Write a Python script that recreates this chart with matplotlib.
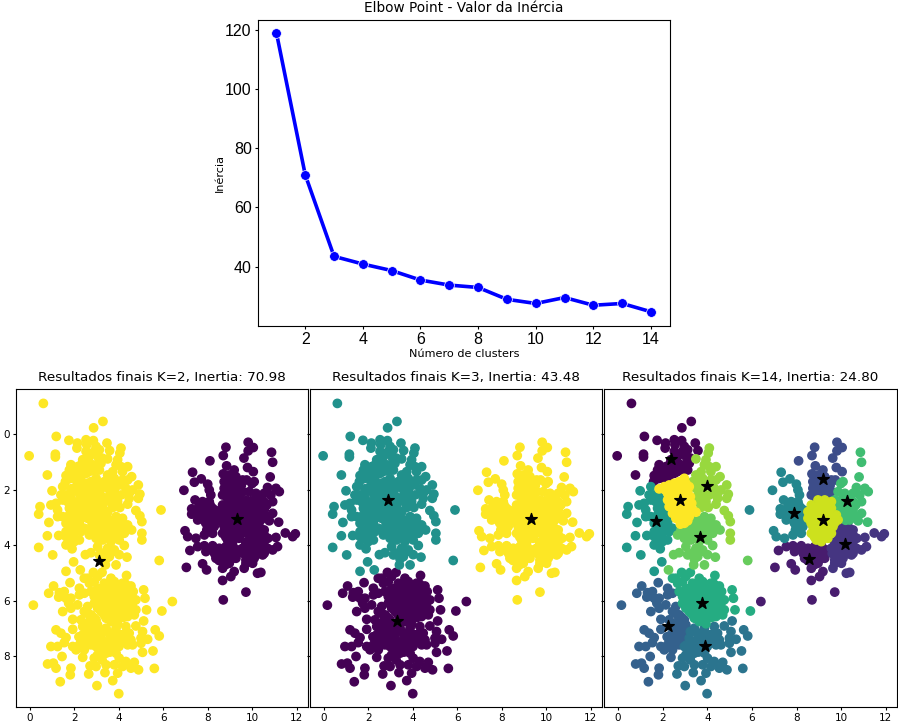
import numpy as np
from matplotlib import pyplot as plt

# Elbow curve
k_values = [1, 2, 3, 4, 5, 6, 7, 8, 9, 10, 11, 12, 13, 14]
inertia = [118.9, 70.98, 43.48, 40.9, 38.7, 35.5, 33.8, 33.0, 29.0, 27.6, 29.6, 27.0, 27.6, 24.8]

# Points grouped as in the K=14 panel
c0 = [(.60,-1.11),(3.28,-.46),(2.86,-.23),(1.18,.08),(1.75,.22),(2.52,.20),(2.85,.23),(3.46,.32),(2.13,.32),(2.11,.50),
      (2.55,.38),(2.97,.44),(3.58,.59),(-.04,.78),(1.14,.72),(1.14,.82),(2.52,.62),(2.89,.62),(3.12,.56),(2.67,.80),
      (3.04,.80),(2.37,.92),(3.24,.86),(.78,1.47),(1.84,1.10),(2.14,1.17),(2.52,1.10),(2.97,1.10),(3.19,1.05),(1.77,1.29),
      (1.99,1.37),(2.37,1.32),(2.74,1.23),(1.62,1.49),(1.59,1.71),(1.99,1.59),(2.29,1.53),(2.52,1.41),(3.12,1.29),
      (2.45,1.25),(2.65,1.35),(2.85,1.30),(2.20,1.60),(1.80,1.60),(2.30,1.10),(2.70,1.05)]
c1 = [(7.19,4.19),(7.54,4.05),(7.84,4.02),(8.21,4.02),(8.51,4.11),(8.81,4.05),(9.11,3.99),(9.33,4.17),(8.96,4.23),(7.03,4.80),
      (7.76,4.67),(7.94,4.89),(7.91,4.23),(8.28,4.23),(8.73,4.23),(9.11,4.29),(9.26,4.47),(8.73,4.53),(8.36,4.47),(8.96,4.65),
      (8.66,4.83),(9.18,4.95),(9.03,5.13),(8.66,5.27),(8.69,5.97),(9.71,5.69),
      (9.10,4.10),(9.25,4.25),(8.90,4.40),(9.05,4.50),(8.55,4.30),(8.50,4.55),(8.80,4.70),(9.30,4.30),(8.30,4.30)]
c2 = [(10.31,3.33),(10.53,3.45),(10.01,3.33),(9.78,3.57),(10.16,3.57),(10.53,3.63),(9.86,3.81),(10.23,3.87),(11.48,3.56),
      (11.93,3.59),(11.81,3.69),(11.06,3.72),(10.53,3.87),(9.56,4.11),(9.93,4.11),(10.31,4.11),(10.68,4.11),(11.13,4.05),
      (10.91,4.17),(9.71,4.29),(10.16,4.29),(10.53,4.29),(10.46,4.35),(9.71,4.53),(10.08,4.47),(9.71,4.65),(10.01,4.65),
      (9.63,4.83),(10.23,5.01),(10.38,4.98),
      (10.20,3.40),(9.90,3.50),(10.35,3.60),(10.00,3.70),(10.40,3.75),(10.10,3.95),(10.45,4.00),(9.70,3.90),(9.90,4.25),
      (10.30,4.30),(9.85,4.45),(9.60,4.30),(10.70,3.75)]
c3 = [(9.81,.29),(8.81,.47),(10.04,.48),(9.81,.60),(8.69,.77),(9.62,.86),(8.09,.96),(8.84,1.14),(9.78,1.20),(9.18,1.29),
      (10.04,1.35),(8.69,1.43),(8.96,1.47),(9.26,1.53),(9.56,1.65),(9.74,1.65),(8.73,1.71),(9.03,1.71),(8.73,1.95),(9.11,1.89),
      (9.41,1.95),(8.66,2.19),(8.96,2.13),(9.26,2.13),(9.56,2.07),(8.88,2.31),(9.18,2.25),
      (8.90,1.75),(9.35,1.75),(9.00,1.95),(9.25,1.90),(8.80,2.05),(9.10,2.00),(9.35,2.05),(9.50,1.85),(8.90,2.25),(9.05,2.25),(9.40,2.20)]
c4 = [(.15,6.16),(1.06,5.47),(1.80,5.35),(.84,5.73),(1.32,5.71),(1.54,5.67),(1.29,5.87),(2.22,5.55),(1.62,5.91),(1.84,5.91),
      (2.22,5.79),(2.44,5.73),(1.74,6.09),(1.47,6.39),(1.84,6.27),(2.14,6.15),(2.59,6.21),(2.44,6.39),(2.74,6.51),(1.92,6.67),
      (2.29,6.69),(2.67,6.75),(2.97,6.69),(1.17,7.05),(1.39,7.17),(1.92,7.03),(2.37,6.93),(2.74,6.99),(3.04,6.87),(1.62,7.33),
      (1.54,7.51),(2.37,7.23),(2.67,7.23),(2.97,7.17),(.94,7.65),(1.24,7.65),(1.92,7.65),(2.22,7.59),(2.59,7.47),(2.89,7.35),
      (2.07,7.77),(2.44,7.77),(2.74,7.59),(2.37,8.04),(1.44,8.01),(.79,8.28),(1.05,8.25),(1.17,8.43),(1.84,8.43),(1.81,8.67),
      (1.36,8.92),(2.55,6.45),(2.85,6.60),(2.50,6.90),(2.85,6.85),(2.55,7.10),(2.85,7.10),(2.30,7.40),(2.55,7.60),(2.20,7.30)]
c5 = [(5.11,6.73),(4.76,6.91),(4.31,6.93),(3.87,6.99),(3.42,6.99),(3.24,7.11),(3.64,7.17),(4.09,7.23),(4.46,7.17),(5.06,7.11),
      (5.63,7.05),(5.81,7.27),(3.19,7.35),(3.57,7.41),(4.54,7.41),(4.16,7.47),(4.99,7.35),(5.29,7.39),(4.99,7.53),(2.97,7.65),
      (3.34,7.65),(4.39,7.59),(4.61,7.59),(5.06,7.86),(5.53,7.81),(3.04,7.95),(3.42,7.89),(3.87,7.89),(2.89,8.07),(3.24,8.13),
      (4.01,8.07),(4.31,8.19),(4.69,8.22),(2.70,8.35),(2.97,8.37),(3.42,8.31),(3.79,8.31),(4.16,8.37),(4.54,8.43),(4.88,8.49),
      (5.59,8.44),(2.64,8.64),(3.37,8.59),(3.94,8.61),(3.72,8.88),(3.01,9.06),(3.99,9.35),
      (3.50,7.15),(3.85,7.20),(3.90,7.45),(4.25,7.20),(3.40,7.50),(3.70,7.60),(4.00,7.65),(4.30,7.45),(3.20,7.80),(3.60,7.85),(3.05,7.60)]
c6 = [(7.31,1.37),(7.70,1.61),(7.39,1.73),(7.99,1.80),(6.92,2.02),(8.06,2.01),(8.13,2.19),(7.42,2.37),(7.76,2.43),(8.06,2.43),
      (7.27,2.69),(7.27,2.88),(7.61,2.61),(7.91,2.61),(8.21,2.67),(7.61,2.85),(7.99,2.85),(8.28,2.91),(7.54,3.09),(7.84,3.09),
      (8.21,3.15),(7.99,3.33),(8.28,3.33),(6.97,3.48),(7.09,3.69),(7.46,3.75),(7.84,3.63),(8.21,3.57),
      (7.70,2.50),(7.85,2.75),(8.10,2.55),(7.75,2.95),(8.00,3.00),(8.15,3.05),(8.10,3.25),(7.90,3.20),(8.35,2.75),(8.40,3.10),
      (7.95,3.45),(8.10,3.50),(7.70,2.70)]
c7 = [(.99,2.04),(1.47,1.89),(.45,2.61),(.39,2.88),(.94,2.55),(1.17,2.49),(1.39,2.19),(1.62,2.19),(1.84,2.25),(1.47,2.37),
      (1.69,2.43),(1.92,2.43),(1.24,2.73),(1.77,2.67),(1.99,2.67),(2.14,2.85),(.85,3.18),(1.24,2.97),(1.47,2.97),(1.77,2.91),
      (1.99,2.97),(2.29,3.03),(1.62,3.21),(1.92,3.15),(2.22,3.21),(2.44,3.39),(2.29,3.51),(2.07,3.27),(.78,3.66),(1.29,3.65),
      (1.62,3.51),(1.84,3.45),(1.62,3.69),(1.84,3.75),(2.22,3.81),(1.99,3.87),(1.62,3.99),(1.89,4.13),(.39,4.08),(1.02,4.35),
      (1.96,4.60),(1.62,4.94),(1.90,2.80),(2.10,3.05),(1.75,3.10),(2.05,3.50),(1.95,3.65),(2.15,2.65)]
c8 = [(2.44,5.19),(2.67,5.37),(2.85,4.98),(3.04,5.13),(3.24,4.98),(2.59,5.19),(2.89,5.31),(3.64,5.19),(3.79,5.31),(4.34,5.09),
      (4.16,5.37),(4.54,5.47),(3.61,5.43),(3.87,5.55),(3.34,5.37),(2.74,5.67),(3.04,5.55),(3.34,5.61),(3.64,5.67),(4.01,5.61),
      (4.31,5.55),(4.64,5.67),(2.89,5.85),(3.19,5.79),(3.49,5.91),(3.94,5.85),(4.24,5.79),(4.54,5.85),(4.76,5.97),(2.89,6.09),
      (3.19,6.03),(3.49,6.15),(4.01,6.15),(4.31,6.03),(4.61,6.09),(3.04,6.27),(3.34,6.33),(3.72,6.33),(4.01,6.39),(4.39,6.33),
      (4.76,6.33),(3.34,6.51),(3.64,6.57),(4.01,6.63),(4.39,6.57),(4.69,6.51),(3.64,6.75),(3.94,6.83),(3.42,6.63),(5.11,5.61),
      (5.17,5.91),(5.24,6.33),(5.93,6.37),
      (3.05,5.70),(3.50,5.70),(3.80,5.70),(4.15,5.65),(4.40,5.70),(3.05,5.95),(3.35,5.95),(3.65,5.90),(4.10,5.95),(4.45,5.95),
      (3.10,6.15),(3.35,6.15),(3.65,6.15),(3.85,6.05),(4.15,6.20),(4.45,6.15),(3.20,6.40),(3.50,6.40),(3.85,6.45),(4.20,6.40),
      (4.55,6.25),(3.50,6.60),(3.80,6.60),(4.20,6.60),(3.75,5.45),(4.00,5.45),(4.30,5.40),(3.50,5.50)]
c9 = [(10.86,.65),(10.91,1.01),(10.80,1.54),(10.08,1.71),(9.98,1.78),(10.68,1.92),(11.06,1.95),(11.21,2.07),(9.86,2.07),
      (10.16,2.13),(10.53,2.13),(10.83,2.19),(9.71,2.37),(10.01,2.37),(10.53,2.43),(10.91,2.43),(9.71,2.61),(10.01,2.67),
      (10.31,2.61),(10.53,2.73),(9.86,2.85),(10.23,2.91),(10.61,2.97),(10.91,2.85),(10.38,3.09),(10.76,3.12),(11.18,3.17),
      (10.15,2.40),(10.30,2.30),(9.85,2.50),(10.15,2.75),(10.35,2.80),(10.00,3.00),(10.50,2.95),(10.20,3.10),(10.65,2.55)]
c10 = [(3.87,2.97),(4.16,3.03),(3.42,3.03),(3.72,3.15),(4.01,3.21),(4.39,3.27),(3.19,3.27),(3.49,3.33),(3.87,3.39),(4.16,3.45),
       (4.57,3.45),(2.82,3.45),(3.12,3.51),(3.42,3.57),(3.87,3.63),(4.24,3.57),(2.67,3.63),(2.97,3.75),(3.27,3.81),(3.64,3.87),
       (4.01,3.81),(3.04,4.05),(3.49,4.11),(3.79,4.17),(4.24,4.01),(2.49,4.34),(2.74,4.27),(3.34,4.27),(3.72,4.23),(4.01,4.34),
       (4.36,4.43),(3.39,4.71),(3.87,4.71),(2.26,4.89),(5.81,4.55),(3.12,4.35),(3.57,4.41),(3.42,4.50),
       (3.60,3.10),(3.95,3.05),(3.30,3.15),(3.60,3.50),(3.10,3.30),(3.30,3.60),(3.05,3.70),(3.50,3.70),(4.20,3.25),(3.95,3.50)]
c11 = [(4.09,.50),(3.49,.89),(4.04,.68),(3.94,.92),(4.39,1.17),(4.09,1.17),(3.87,1.10),(3.72,1.35),(4.16,1.35),(4.57,1.53),
       (3.49,1.47),(3.79,1.59),(4.16,1.65),(4.39,1.65),(3.34,1.71),(3.64,1.77),(4.01,1.83),(4.31,1.95),(4.87,1.83),(4.61,2.01),
       (3.49,1.95),(3.79,2.01),(4.46,2.13),(4.94,2.16),(4.87,2.31),(3.72,2.13),(4.09,2.19),(4.46,2.31),(3.64,2.45),(3.94,2.43),
       (4.39,2.52),(3.72,2.64),(4.04,2.64),(4.76,2.75),(4.94,2.94),(5.03,3.15),(5.03,3.57),(5.03,3.81),
       (3.65,1.50),(3.55,1.70),(3.85,1.80),(3.60,2.00),(3.90,2.25),(3.55,2.25),(3.80,2.55)]
c12 = [(8.96,2.37),(9.26,2.37),(9.56,2.43),(8.66,2.55),(8.96,2.61),(9.26,2.61),(9.56,2.67),(8.51,2.79),(8.81,2.85),(9.11,2.85),
       (9.48,2.91),(9.78,2.91),(8.51,3.03),(8.81,3.09),(9.11,3.15),(9.48,3.15),(9.86,3.09),(8.73,3.33),(9.03,3.39),(9.33,3.39),
       (9.63,3.33),(8.66,3.57),(8.96,3.63),(9.26,3.63),(9.56,3.57),(8.88,3.81),(9.11,3.87),
       (9.10,2.50),(9.40,2.50),(8.75,2.70),(9.10,2.70),(9.40,2.75),(8.65,2.90),(8.95,2.95),(9.30,3.00),(9.60,3.00),(8.65,3.20),
       (8.95,3.25),(9.30,3.25),(9.70,3.20),(8.85,3.50),(9.10,3.50),(9.40,3.50),(8.80,3.70),(9.10,3.70),(9.40,3.75)]
c13 = [(1.84,1.97),(2.07,1.89),(2.29,1.83),(2.52,1.77),(2.74,1.71),(2.97,1.59),(3.04,1.77),(3.19,1.89),(2.44,2.01),(2.67,1.95),
       (2.89,1.95),(3.12,2.07),(2.22,2.13),(2.44,2.25),(2.67,2.19),(2.97,2.19),(3.24,2.25),(2.22,2.37),(2.44,2.49),(2.74,2.43),
       (3.04,2.43),(3.30,2.49),(2.29,2.61),(2.59,2.67),(2.89,2.61),(3.12,2.67),(3.34,2.73),(2.44,2.85),(2.74,2.85),(3.04,2.85),
       (3.49,2.81),(2.59,3.03),(2.89,3.03),(3.19,2.97),(2.79,3.24),(2.97,3.21),(3.12,3.12),
       (2.10,2.00),(2.35,1.95),(2.60,1.85),(2.85,1.80),(2.55,2.15),(2.80,2.10),(3.05,2.20),(2.35,2.35),(2.60,2.35),(2.90,2.35),
       (3.15,2.35),(2.45,2.60),(2.75,2.55),(3.00,2.55),(2.55,2.80),(2.90,2.75),(3.20,2.80),(2.70,3.00),(3.05,3.05)]

# Two points that K=3 puts in another blob than their K=14 group
stray_x = [5.89, 6.40]
stray_y = [2.73, 6.03]
stray_k14 = [6, 1]
stray_k3 = [1, 0]

groups = [c0, c1, c2, c3, c4, c5, c6, c7, c8, c9, c10, c11, c12, c13]
k3_of_group = [1, 2, 2, 2, 0, 0, 2, 1, 0, 2, 1, 1, 2, 1]
k2_of_group = [1, 0, 0, 0, 1, 1, 0, 1, 1, 0, 1, 1, 0, 1]

# Centroids
centers_k2_x = [9.32, 3.12]
centers_k2_y = [3.07, 4.56]
centers_k3_x = [2.88, 3.29, 9.32]
centers_k3_y = [2.37, 6.73, 3.05]
centers_k14_x = [2.37, 2.76, 3.99, 1.69, 3.69, 7.87, 9.20, 10.25, 9.20, 10.17, 8.55, 3.75, 2.22, 3.90]
centers_k14_y = [.89, 2.38, 1.86, 3.12, 3.69, 2.85, 1.61, 2.40, 3.09, 3.95, 4.49, 6.07, 6.92, 7.64]

titles = ['Resultados finais K=2, Inertia: 70.98',
          'Resultados finais K=3, Inertia: 43.48',
          'Resultados finais K=14, Inertia: 24.80']

xs, ys, k2, k3, k14 = [], [], [], [], []
for i, g in enumerate(groups):
    for px, py in g:
        xs.append(px)
        ys.append(py)
        k14.append(i)
        k3.append(k3_of_group[i])
        k2.append(k2_of_group[i])
for px, py, a, b in zip(stray_x, stray_y, stray_k14, stray_k3):
    xs.append(px)
    ys.append(py)
    k14.append(a)
    k3.append(b)
    k2.append(1)

W, H = 898, 726
fig = plt.figure(figsize=(W / 100, H / 100), dpi=100)


def make_axes(x0, y0, x1, y1, **kw):
    return fig.add_axes([x0 / W, 1 - y1 / H, (x1 - x0) / W, (y1 - y0) / H], **kw)


# Elbow plot
ax = make_axes(258, 19.5, 670, 326)
ax.plot(k_values, inertia, color='blue', lw=2.6, marker='o', ms=7, mec='white', mew=0.5)
ax.set_xlim(0.36, 14.66)
ax.set_ylim(20, 123.4)
ax.set_xticks(range(2, 15, 2))
ax.set_yticks(range(40, 121, 20))
ax.tick_params(labelsize=11.5, pad=2, length=2.5)
for lab in ax.get_xticklabels() + ax.get_yticklabels():
    lab.set_family('Liberation Sans')
ax.set_title('Elbow Point - Valor da Inércia', fontsize=9.8, pad=5.5)
ax.set_xlabel('Número de clusters', fontsize=8.1, labelpad=1.5)
ax.set_ylabel('Inércia', fontsize=8.1, labelpad=0)

# Final clusters
boxes = [(16, 308), (310, 602), (604, 897)]
labels = [k2, k3, k14]
centers = [(centers_k2_x, centers_k2_y), (centers_k3_x, centers_k3_y), (centers_k14_x, centers_k14_y)]
for n in range(3):
    ax = make_axes(boxes[n][0], 388.7, boxes[n][1], 707)
    ax.scatter(xs, ys, c=labels[n], cmap='viridis', s=36)
    ax.scatter(centers[n][0], centers[n][1], marker='*', c='black', s=75)
    ax.set_xlim(-0.63, 12.5)
    ax.set_ylim(9.83, -1.64)
    ax.set_xticks(range(0, 13, 2))
    ax.set_yticks(range(0, 9, 2))
    ax.tick_params(labelsize=7.5, length=2.5, pad=2)
    if n > 0:
        ax.tick_params(labelleft=False)
    ax.set_title(titles[n], fontsize=9.7, pad=5.5)

fig.savefig('out.png', dpi=100)
